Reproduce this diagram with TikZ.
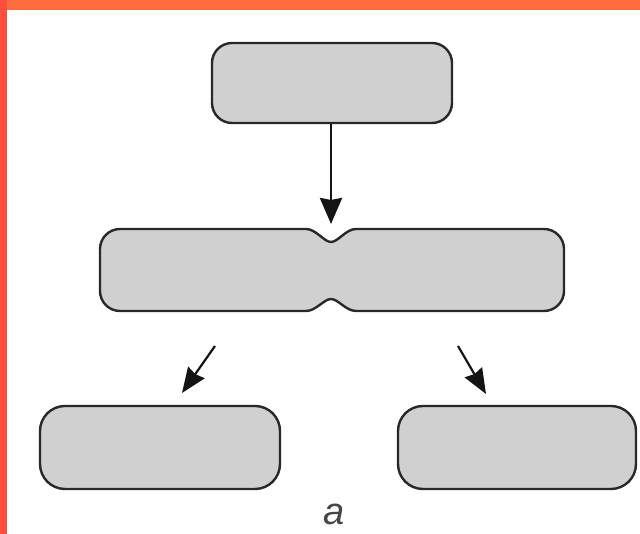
\documentclass[tikz,border=0pt]{standalone}
\usepackage{fontspec}
\setmainfont{Liberation Sans}
\usetikzlibrary{arrows.meta}
\definecolor{boxfill}{RGB}{208,208,208}
\definecolor{boxline}{RGB}{40,40,40}
\definecolor{arrowink}{RGB}{20,20,20}
\definecolor{labelink}{RGB}{70,70,70}
\definecolor{frametop}{RGB}{255,108,62}
\definecolor{frameleft}{RGB}{255,78,62}
\tikzset{
  pill/.style={draw=boxline, fill=boxfill, line width=2.4pt, inner sep=0pt},
  flowarrow/.style={draw=arrowink, line width=2.8pt, -{Stealth[length=26pt,width=22pt,inset=2pt]}},
  splitarrow/.style={draw=arrowink, line width=2.2pt, -{Stealth[length=25pt,width=20pt,inset=2pt]}},
}
\begin{document}
\begin{tikzpicture}[x=1pt,y=1pt]
\useasboundingbox (0,0) rectangle (640,534);
\fill[white] (0,0) rectangle (640,534);
% frame
\fill[frametop] (0,524) rectangle (640,534);
\fill[frameleft] (0,0) rectangle (7,534);
% top box
\node[pill, rounded corners=20pt, minimum width=240pt, minimum height=80pt] (top) at (332,451) {};
% middle notched box
\draw[pill, line join=round] (120,305) -- (306,305)
  .. controls (316,305) and (324,292) .. (331,292)
  .. controls (338,292) and (346,305) .. (356,305) -- (544,305)
  arc[start angle=90,end angle=0,radius=20] -- (564,243)
  arc[start angle=0,end angle=-90,radius=20] -- (356,223)
  .. controls (346,223) and (338,235) .. (331,235)
  .. controls (324,235) and (316,223) .. (306,223) -- (120,223)
  arc[start angle=270,end angle=180,radius=20] -- (100,285)
  arc[start angle=180,end angle=90,radius=20] -- cycle;
\node[inner sep=0pt, minimum size=0pt] (mid) at (332,264) {};
\coordinate (notch) at (331,310);
% bottom boxes
\node[pill, rounded corners=25pt, minimum width=240pt, minimum height=83pt] (left) at (160,86.5) {};
\node[pill, rounded corners=25pt, minimum width=238pt, minimum height=83pt] (right) at (517,86.5) {};
% arrows
\draw[flowarrow] (top.south -| notch) -- (notch);
\coordinate (lstart) at (215,188);
\coordinate (lend) at (182,141);
\coordinate (rstart) at (458,188);
\coordinate (rend) at (486,140);
\draw[splitarrow] (lstart) -- (lend);
\draw[splitarrow] (rstart) -- (rend);
% label
\node[text=labelink, font=\fontsize{38pt}{40pt}\selectfont\itshape] (lab) at (334,20) {a};
\end{tikzpicture}
\end{document}
